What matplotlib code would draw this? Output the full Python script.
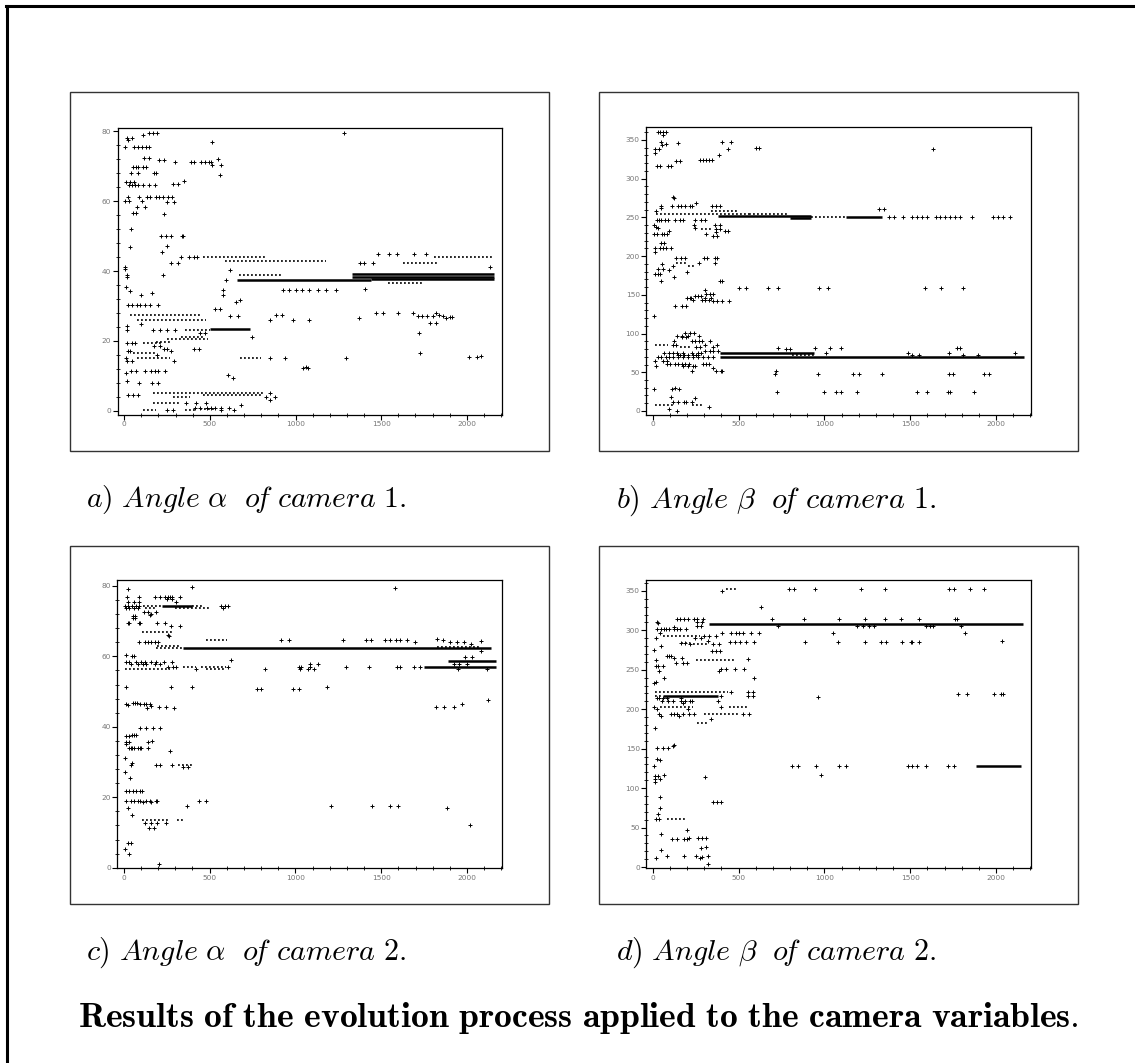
import matplotlib
matplotlib.use('Agg')
import matplotlib.pyplot as plt
from matplotlib.ticker import MultipleLocator
from matplotlib.lines import Line2D

plt.rcParams['mathtext.fontset'] = 'cm'

# ---------------- data (generation index, angle) ----------------
x_ticks = [0, 500, 1000, 1500, 2000]
alpha_ticks = [0, 20, 40, 60, 80]
beta_ticks = [0, 50, 100, 150, 200, 250, 300, 350]

captions = [r'$\mathit{a)\ Angle\ }\alpha\mathit{\ \ o\!f\ camera\ 1.}$',
            r'$\mathit{b)\ Angle\ }\beta\mathit{\ \ o\!f\ camera\ 1.}$',
            r'$\mathit{c)\ Angle\ }\alpha\mathit{\ \ o\!f\ camera\ 2.}$',
            r'$\mathit{d)\ Angle\ }\beta\mathit{\ \ o\!f\ camera\ 2.}$']
title = r'$\mathbf{Results\ of\ the\ evolution\ process\ applied\ to\ the\ camera\ variables.}$'

# panel a: angle alpha, camera 1
a_pts = [(144,79.5),(169,79.5),(192,79.5),(111,78.9),(17,78.1),(43,78.1),(25,77.4),(515,77),(1285,79.5),
 (4,75.3),(58,75.3),(82,75.3),(101,75.3),(126,75.3),(144,75.3),
 (115,72.4),(146,72.4),(548,72),(204,71.7),(233,71.7),
 (297,71.2),(388,71.2),(406,71.2),(447,71.2),(470,71.2),(495,71.2),(509,71.2),
 (515,70.3),(563,70.3),(52,69.6),(68,69.6),(82,69.6),(111,69.6),(130,69.6),
 (39,67.9),(82,67.9),(175,67.9),(184,67.9),(557,67.5),
 (348,65.8),(10,65.5),(33,65.5),(58,65.5),
 (29,64.5),(43,64.5),(62,64.5),(82,64.5),(111,64.5),(144,64.5),(179,64.5),(287,64.9),(315,64.9),
 (23,61.2),(87,61.2),(134,61.2),(150,61.2),(184,61.2),(204,61.2),(227,61.2),(256,61.2),(280,61.2),
 (4,60.0),(27,60.0),(101,60.0),(247,59.6),(291,59.6),
 (72,58.4),(120,58.4),(52,56.5),(68,56.5),(231,56.3),
 (37,52.1),(212,50.1),(241,50.1),(272,50.1),(336,50.1),(344,50.1),
 (247,47.2),(33,46.9),(223,45.4),
 (334,44.1),(381,44.1),(406,44.1),(425,44.1),(272,42.3),(315,42.3),
 (1375,42.4),(1402,42.4),(1450,42.4),
 (1480,44.9),(1544,44.9),(1594,44.9),(1693,44.9),(1761,44.9),(2136,41.2),(616,40.3),
 (596,37.4),(14,38.2),(4,41.2),(4,40.5),(14,38.9),(8,35.5),(33,34.2),(97,33.1),(165,33.8),(227,38.9),
 (577,34.6),(577,33.0),(650,31.1),(674,31.7),
 (926,34.6),(960,34.6),(1000,34.6),(1040,34.6),(1080,34.6),(1130,34.6),(1180,34.6),(1237,34.6),(1406,34.9),
 (23,30.3),(43,30.3),(72,30.3),(91,30.3),(120,30.3),(150,30.3),(198,30.3),
 (528,29.0),(561,29.0),(616,27.0),(664,27.0),(884,27.4),(922,27.4),
 (1373,26.5),(1470,27.9),(1509,27.9),(1596,27.9),(1687,27.9),(1716,27.2),(1740,27.2),(1770,27.2),(1800,27.2),
 (1820,27.9),(1840,27.5),(1860,27.0),(1880,26.5),(1900,26.9),(1916,26.9),
 (852,26.0),(988,26.0),(1076,26.0),(1786,25.0),(1819,25.0),
 (97,24.8),(14,24.3),(17,23.1),(169,23.0),(208,23.0),(247,23.0),(296,23.0),
 (441,22.2),(470,22.2),(1718,22.2),(746,21.2),
 (14,19.3),(43,19.3),(62,19.3),(175,18.7),(208,18.7),
 (233,17.8),(247,17.8),(408,17.8),(437,17.8),(23,17.1),(33,17.1),(272,17.1),
 (192,16.0),(1728,16.7),
 (8,15.2),(849,15.2),(936,15.2),(1295,15.2),(2014,15.5),(2062,15.5),(2082,15.8),
 (14,14.3),(43,14.3),(289,14.3),(1043,12.2),(1060,12.5),(1072,12.2),
 (39,11.5),(68,11.5),(120,11.5),(159,11.5),(179,11.5),(198,11.5),(237,11.5),
 (10,10.8),(606,10.3),(635,9.3),(17,8.7),(87,7.9),(165,7.9),(198,7.9),
 (852,5.0),(23,4.6),(52,4.6),(82,4.6),(829,3.9),(878,3.9),(849,3.1),
 (363,2.4),(421,2.4),(480,2.4),(683,1.7),
 (412,0.8),(441,0.8),(483,0.8),(509,0.8),(532,0.8),(567,0.8),(612,0.8),
 (247,0.3),(285,0.3),(567,0.3),(639,0.3)]
a_dense = [(660,1440,37.3),(1330,2160,39.0),(1330,2160,38.3),(1440,2160,37.6),(499,732,23.3)]
a_sparse = [(460,820,44.1),(1810,2160,44.0),(169,810,5.1),
 (590,1180,43.0),(668,926,38.9),(1538,1751,36.5),(1625,1839,42.2),(33,450,27.4),
 (72,478,26.0),(353,499,23.0),(334,460,21.0),(247,490,20.5),(184,276,19.8),(107,217,19.3),
 (52,188,16.5),(72,266,15.2),(674,800,15.2),(460,810,4.6),(285,382,3.9),(169,324,2.4),
 (107,188,0.3),(353,421,0.3),(441,538,0.5)]

# panel b: angle beta, camera 1
b_pts = [(29,360),(39,360),(58,360),(78,360),(58,357),(146,346),(49,348),(78,345),(405,347),(453,347),(54,344),
 (603,340),(619,340),(1632,339),(14,338),(35,338),(438,338),(10,333),(383,331),
 (272,324.6),(292,324.6),(309,324.6),(325,324.6),(344,324.6),(136,323),(161,323),
 (25,317),(43,317),(88,317),(103,316),(117,277),(123,275),(253,268.5),
 (49,265),(111,265),(146,265),(165,265),(189,265),(214,265),(230,265),(346,265),(370,265),(393,265),
 (45,262),(19,258),(1319,261),(1346,261),
 (1375,250.4),(1405,250.4),(1457,250.4),(1512,250.4),(1541,250.4),(1570,250.4),(1595,250.4),
 (1648,250.4),(1673,250.4),(1702,250.4),(1731,250.4),(1761,250.4),(1790,250.4),(1858,250.4),
 (1984,250.4),(2013,250.4),(2043,250.4),(2082,250.4),
 (25,247),(35,247),(49,247),(70,247),(88,247),(132,247),(156,247),(175,247),(243,247),(278,247),(302,247),
 (4,240),(19,238),(29,236),(360,240),(389,240),(237,240.5),(247,236),
 (370,235),(393,235),(418,232.7),(438,232.7),(97,232.7),(370,230.6),
 (4,228.4),(23,228.4),(54,228.4),(68,228.4),(84,228.4),(311,228.4),(350,225.4),(374,225.4),
 (49,217),(68,217),(10,210),(39,210),(58,210),(78,210),(103,210),(14,205),
 (136,197.4),(165,197.4),(189,197.4),(298,197.4),(315,197.4),(360,197.4),(374,197.4),
 (267,191),(364,191),(54,190),(117,187.5),(97,182),(29,183),(58,183),(200,180),
 (10,177),(29,177),(39,177),(123,173),(45,168.5),(389,168.5),(405,168.5),
 (500,158.6),(545,158.6),(671,158.6),(730,158.6),(969,158.6),(1018,158.6),(1586,158.6),(1677,158.6),(1809,158.6),
 (302,156.5),(311,151),(331,151),(350,151),(247,149),(263,149),(282,149),
 (200,145.7),(214,145.7),(224,145.7),(302,145.7),(340,145.7),
 (233,142.7),(288,142.7),(302,142.7),(327,142.7),(350,141.4),(376,141.4),(403,141.4),(444,141.4),
 (130,135.8),(169,135.8),(195,135.8),(6,122.8),
 (189,100.4),(214,100.4),(239,100.4),(142,97.4),(169,97.4),(204,97.4),(267,97.4),(171,95.3),(195,95.3),
 (123,90),(230,90),(243,90),(267,90),(286,90),(335,90),
 (117,85.3),(136,85.3),(305,85.3),(374,85.3),(249,83.2),(272,83.2),(350,83.2),
 (730,81),(774,80),(802,80),(944,81),(1031,81),(1099,81.5),(1770,81),(1790,81),
 (305,78),(335,78),(350,78),(380,78),
 (68,75),(97,75),(117,75),(142,75),(175,75),(230,75),(263,75),(282,75),(1008,75),(1488,75),(1726,75),(2111,75),
 (146,72),(161,72),(179,72),(204,72),(233,72),(249,72),(263,72),(1512,72),(1551,72),(1809,72),(1897,72),
 (29,69.5),(49,69.5),(78,69.5),(97,69.5),(117,69.5),(146,69.5),(175,69.5),(204,69.5),(233,69.5),
 (263,69.5),(292,69.5),(321,69.5),(350,69.5),
 (10,65),(58,65),(82,65),
 (82,61),(101,61),(130,61),(146,61),(169,61),(189,61),(208,61),(292,61),(311,61),(325,61),
 (19,58),(175,58),(204,58),(233,58),(247,58),(350,55),
 (231,52),(370,52),(399,52),(405,52),(720,51),
 (710,47.8),(963,47.8),(1167,47.8),(1202,47.8),(1333,47.8),(1728,47.8),(1751,47.8),(1930,47.8),(1959,47.8),
 (6,28.4),(113,28.4),(132,30),(152,29),
 (724,24),(996,25),(1070,25),(1099,25),(1191,25),(1541,25),(1599,25),(1720,25),(1730,25),(1872,25),
 (107,17.7),(247,16.4),(117,11),(146,11),(181,11),(191,11),(228,11),
 (327,5.6),(97,2.2),(140,0.4)]
b_dense = [(379,924,251.5),(798,924,249.5),(1123,1337,250.4),(389,938,74.6),(389,2160,69.5)]
b_sparse = [(19,560,254.5),(560,788,254.5),(924,1123,250.4),(340,496,258),(282,340,235),
 (136,204,191),(204,253,187.5),(10,88,85.3),(161,214,83.2),(14,132,7.8),(228,286,7.8),(813,944,72)]

# panel c: angle alpha, camera 2
c_pts = [(397,79.8),(1581,79.5),(27,79.2),
 (18,77),(86,77),(183,77),(212,77),(241,77),(257,77),(269,77),(280,77),(325,77),(251,76.3),(280,76.3),
 (27,75.4),(58,75.4),(86,75.4),(306,75.4),
 (569,74.3),(588,74.3),(608,74.3),(4,74.3),(23,74.3),(50,74.3),(70,74.3),(90,74.3),
 (14,73.7),(33,73.7),(58,73.7),(82,73.7),(578,73.7),
 (115,72.5),(140,72.5),(160,72),(185,72.5),(150,71.8),(53,71.6),(66,71.6),(53,70.8),(66,70.8),
 (23,69.5),(33,69.5),(86,69.5),(97,69.5),(193,69.5),(238,69.5),(277,68.5),(325,68.5),(263,65.8),(260,66.2),
 (1276,64.7),(1412,64.7),(1439,64.7),(1523,64.7),(1552,64.7),(1825,64.9),(915,64.7),(964,64.7),
 (88,64.2),(121,64.2),(140,64.2),(160,64.2),(180,64.2),(199,64.2),
 (1587,64.7),(1611,64.7),(1650,64.7),(1699,64.2),(1860,64.7),(1903,64.0),(1942,64.0),(1981,64.0),(2020,63.6),(2078,64.4),
 (2078,61.6),(14,60.4),(49,60.1),(62,60.1),(1989,59.8),(2028,59.8),(623,59.0),
 (14,58.3),(33,58.3),(72,58.3),(101,58.3),(121,58.3),(160,58.3),(189,58.3),(234,58.3),(283,58.3),
 (1922,57.8),(1950,57.8),(2000,57.8),(1085,57.8),(1130,57.8),
 (43,57.7),(82,57.7),(111,57.7),(130,57.7),(179,57.7),(208,57.7),
 (257,57.1),(286,57.1),(306,57.1),(608,57.1),(1022,57.1),(1032,57.1),(1085,57.1),(1295,57.1),(1429,57.1),
 (1591,57.1),(1611,57.1),(1689,57.1),(1724,57.1),
 (423,56.4),(822,56.4),(1026,56.4),(1075,56.4),(1108,56.4),(1947,56.4),(2113,56.4),
 (14,51.4),(277,51.4),(397,51.4),(1186,51.4),(777,50.8),(802,50.8),(987,50.8),(1020,50.8),(2121,47.5),
 (14,46.5),(23,46.2),(56,46.8),(66,46.8),(76,46.8),(97,46.5),(115,46.5),(130,46.5),(150,46.5),(160,46.0),(1971,46.5),
 (203,45.7),(244,45.7),(1821,45.7),(1868,45.7),(1922,45.7),(136,45.3),(290,45.3),
 (97,39.6),(127,39.6),(169,39.6),(212,39.6),
 (14,37.5),(33,37.5),(49,37.8),(62,37.8),(72,37.8),(14,35.8),(33,35.8),(140,35.8),(164,36),(14,35),
 (29,33.9),(40,33.9),(50,33.9),(62,33.9),(82,33.9),(92,33.9),(101,33.9),(140,33.9),
 (267,33.1),(8,31.1),(39,29.2),(47,29.6),(189,29.2),(212,29.2),(280,29.2),
 (345,28.5),(374,28.5),(8,27.1),(37,25.4),
 (10,21.8),(33,21.8),(53,21.8),(72,21.8),(92,21.8),(107,21.8),
 (10,18.8),(39,18.8),(62,18.8),(80,19),(92,19),(110,18.6),(130,19),(150,18.8),(160,18.6),(185,19),(193,18.8),
 (436,18.8),(477,18.8),
 (368,17.6),(1205,17.6),(1445,17.6),(1548,17.6),(1600,17.6),(27,16.9),(1883,16.9),(45,15.0),
 (121,12.6),(160,12.6),(193,12.6),(243,12.6),(2014,12.1),(144,11.4),(173,11.4),
 (23,7.1),(39,7.1),(4,5.3),(29,3.9),(204,1.0)]
c_dense = [(345,2137,62.3),(1889,2166,58.6),(1747,2166,57.1),(220,400,74.3)]
c_sparse = [(111,220,74.3),(400,461,74.3),(296,500,73.7),(121,189,73.7),(107,286,66.9),(477,602,64.7),
 (193,325,63.0),(189,345,62.5),(1825,2078,62.8),(345,423,57.1),(452,598,57.1),(4,267,56.4),
 (481,588,56.4),(316,403,29.2),(107,267,13.5),(310,354,13.5)]

# panel d: angle beta, camera 2
d_pts = [(1724,353),(1757,353),(1850,353),(1932,353),
 (796,352),(821,352),(942,352),(1214,352),(1350,352),(404,350),(631,330),
 (140,314),(161,314),(181,314),(204,314),(237,314),(258,314),(291,314),(693,314),(880,314),(1082,314),
 (1237,314),(1355,314),(1447,314),(1553,314),(1761,314),(1771,314),
 (25,310.5),(33,309),(258,310.5),(285,310.5),
 (256,306),(282,306),(728,306),(1190,306),(1223,306),(1262,306),(1287,306),(1592,305),(1612,305),(1631,305),(1796,305),
 (25,302),(45,302),(68,302),(78,302),(97,302),(122,302),(140,302),(160,302),(194,302),(126,304),
 (39,296.6),(402,296.6),(456,296.6),(484,296.6),(502,296.6),(525,296.6),(573,296.6),(621,296.6),(1049,296.6),(1816,296.6),
 (301,293),(326,293),(369,293),(19,290),(243,290),(282,290),(320,287),
 (165,284),(185,284),(214,283),(350,283),(383,283),
 (447,284.9),(480,284.9),(510,284.9),(540,284.9),(592,284.9),(889,284.9),(1078,284.9),(1237,284.9),
 (1330,284.9),(1359,284.9),(1450,284.9),(1505,284.9),(1511,284.9),(1553,284.9),(2035,286),
 (45,280.7),(6,275.6),(346,273.5),(369,273.5),(392,273.5),
 (84,268),(93,268),(103,268),(126,265),(169,265),(557,264),(16,263),
 (136,258),(175,258),(200,258),(19,255),(33,255),(58,255),
 (398,251),(427,251),(476,251),(534,251),(35,248),(383,248),
 (68,240),(592,240),(19,234.5),(6,233),(456,222),(553,222),(583,222),
 (961,216),(1777,219),(1831,219),(1986,219),(2029,219),(2039,219),(400,216.8),(553,216.8),(583,216.8),
 (25,214.7),(35,214.7),(58,214.7),(80,214.7),(165,214.7),
 (54,211),(87,211),(117,211),(165,211),(188,211),(214,211),(229,211),(379,211),(175,208.4),
 (6,203),(398,203),(25,200.8),(204,200.8),
 (35,194.5),(103,194.5),(122,194.5),(142,194.5),(175,194.5),(208,194.5),(239,194.5),(524,194.5),(563,194.5),
 (45,191.6),(151,191.6),(340,188),(10,175.6),
 (117,153.8),(122,154.8),(25,150.4),(58,150.4),(87,150.4),(25,137),(39,136),
 (6,128.6),(812,128.6),(845,128.6),(951,128.6),(1083,128.6),(1126,128.6),(1485,128.6),(1509,128.6),
 (1540,128.6),(1592,128.6),(1718,128.6),(1753,128.6),
 (980,116.8),(68,116.8),(14,116),(29,115),(305,113.9),(10,111.8),(39,111.8),(10,107.6),
 (43,88.7),(353,82.4),(373,82.4),(398,82.4),(39,74.8),(33,67.6),
 (19,60.5),(35,60.5),(200,46.6),(45,42.4),
 (210,37.4),(262,37.4),(287,37.4),(311,37.4),(111,35.3),(142,35.3),(181,35.3),(200,35.3),
 (278,23.5),(311,25),(45,21.4),
 (84,14.3),(184,14.3),(249,14.3),(287,13),(320,14.3),(272,11.8),(19,10.9),(320,4.2)]
d_dense = [(330,2155,308),(60,379,216.8),(1883,2146,128.6)]
d_sparse = [(10,60,216.8),(10,437,222),(39,233,203),(58,272,293),(427,485,352),(233,320,283),
 (252,485,262),(443,563,203),(301,495,194.5),(258,330,183),(84,194,60.5),(165,214,284)]

# ---------------- layout ----------------
W, H = 1135, 1063
fig = plt.figure(figsize=(W / 100, H / 100), dpi=100)

def fx(px):
    return px / W

def fy(py):
    return 1 - py / H

# outer page frame (left and top edges visible)
fig.add_artist(Line2D([fx(6.5), fx(6.5)], [fy(6), 0], color='black', lw=2.2,
                      transform=fig.transFigure))
fig.add_artist(Line2D([fx(5.5), 1], [fy(6), fy(6)], color='black', lw=2.2,
                      transform=fig.transFigure))

panels = [
    dict(pts=a_pts, dense=a_dense, sparse=a_sparse, ticks=alpha_ticks, minor=4,
         box=(69.5, 91.5, 549, 451.5), ax=(117.7, 127.7, 502, 415), ylim=(-1.15, 80.95)),
    dict(pts=b_pts, dense=b_dense, sparse=b_sparse, ticks=beta_ticks, minor=10,
         box=(599, 91.5, 1078, 451.5), ax=(646.3, 127.3, 1031.3, 415), ylim=(-5.2, 366.4)),
    dict(pts=c_pts, dense=c_dense, sparse=c_sparse, ticks=alpha_ticks, minor=4,
         box=(69.5, 545.5, 549, 904), ax=(117.3, 580.3, 502.3, 868.3), ylim=(-0.17, 81.6)),
    dict(pts=d_pts, dense=d_dense, sparse=d_sparse, ticks=beta_ticks, minor=10,
         box=(599, 545.5, 1078, 904), ax=(646.3, 580.3, 1031.3, 868.3), ylim=(-1.6, 363.4)),
]

renderer = fig.canvas.get_renderer()

def fit_text(s, x_px, base_px, target_w, fs0, **kw):
    t = fig.text(fx(x_px), fy(base_px), s, fontsize=fs0, ha='left', va='baseline', **kw)
    w = t.get_window_extent(renderer).width
    t.set_fontsize(fs0 * target_w / w)
    return t

for p, cap in zip(panels, captions):
    bx0, by0, bx1, by1 = p['box']
    fig.add_artist(plt.Rectangle((fx(bx0), fy(by1)), fx(bx1) - fx(bx0), fy(by0) - fy(by1),
                                 transform=fig.transFigure, fill=False,
                                 edgecolor='#333333', lw=1.0))
    ax0, ay0, ax1, ay1 = p['ax']
    ax = fig.add_axes([fx(ax0), fy(ay1), fx(ax1) - fx(ax0), fy(ay0) - fy(ay1)])
    xs, ys = zip(*p['pts'])
    ax.plot(xs, ys, ls='none', marker='+', ms=2.5, mew=0.7, color='black')
    for x0, x1, y in p['dense']:
        ax.hlines(y, x0, x1, colors='black', lw=1.8)
    for x0, x1, y in p['sparse']:
        ax.hlines(y, x0, x1, colors='black', lw=1.2, linestyles=(0, (1.1, 1.3)))
    ax.set_xlim(-38, 2205)
    ax.set_ylim(*p['ylim'])
    ax.set_xticks(x_ticks)
    ax.set_yticks(p['ticks'])
    ax.xaxis.set_minor_locator(MultipleLocator(100))
    ax.yaxis.set_minor_locator(MultipleLocator(p['minor']))
    ax.tick_params(which='major', direction='out', length=3.4, width=0.8, color='black',
                   labelsize=5.3, labelcolor='#777777', pad=1.2)
    ax.tick_params(which='minor', direction='inout', length=2.6, width=0.6, color='black')
    for s in ax.spines.values():
        s.set_linewidth(0.9)
        s.set_color('black')
    fit_text(cap, bx0 + 16.5, by1 + 56, 321, 17)

fit_text(title, 77.7, 1026.7, 1002, 17)

fig.savefig('out.png', dpi=100)
